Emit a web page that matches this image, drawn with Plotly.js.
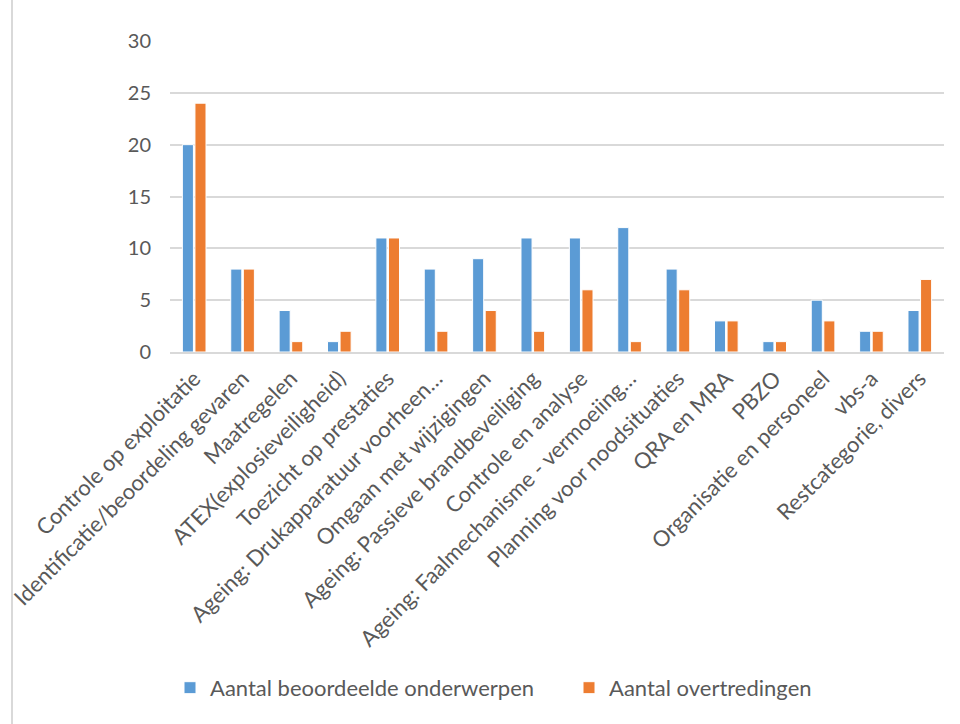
<!DOCTYPE html>
<html>
<head>
<meta charset="utf-8">
<script src="https://cdn.plot.ly/plotly-3.0.1.min.js"></script>
<style>html,body{margin:0;padding:0;background:#fff;}#chart{width:960px;height:724px;}</style>
</head>
<body>
<div id="chart"></div>
<script>
const categories = [
  "Controle op exploitatie",
  "Identificatie/beoordeling gevaren",
  "Maatregelen",
  "ATEX(explosieveiligheid)",
  "Toezicht op prestaties",
  "Ageing: Drukapparatuur voorheen…",
  "Omgaan met wijzigingen",
  "Ageing: Passieve brandbeveiliging",
  "Controle en analyse",
  "Ageing: Faalmechanisme - vermoeiing…",
  "Planning voor noodsituaties",
  "QRA en MRA",
  "PBZO",
  "Organisatie en personeel",
  "vbs-a",
  "Restcategorie, divers"
];
const beoordeeld = [20, 8, 4, 1, 11, 8, 9, 11, 11, 12, 8, 3, 1, 5, 2, 4];
const overtredingen = [24, 8, 1, 2, 11, 2, 4, 2, 6, 1, 6, 3, 1, 3, 2, 7];
const yTicks = [0, 5, 10, 15, 20, 25, 30];

const fontFam = "Lato, 'Open Sans', sans-serif";
const traces = [
  {type: "bar", name: "Aantal beoordeelde onderwerpen", x: categories, y: beoordeeld,
   legend: "legend",
   marker: {color: "#5B9BD5", line: {color: "#ffffff", width: 1}}},
  {type: "bar", name: "Aantal overtredingen", x: categories, y: overtredingen,
   legend: "legend2",
   marker: {color: "#ED7D31", line: {color: "#ffffff", width: 1}}}
];
const legendBase = {orientation: "h", y: -1.08, yanchor: "middle", xanchor: "left",
                    font: {size: 22, color: "#595959"}, itemwidth: 30, bgcolor: "rgba(0,0,0,0)"};
const layout = {
  width: 960, height: 724,
  margin: {l: 170, r: 16, t: 41, b: 372},
  paper_bgcolor: "#ffffff", plot_bgcolor: "#ffffff",
  barmode: "group", bargap: 0.48, bargroupgap: 0.12,
  font: {family: fontFam, color: "#595959", size: 22},
  xaxis: {
    type: "category", tickangle: -45, automargin: false,
    showline: true, linecolor: "#D9D9D9", linewidth: 2,
    showgrid: false, ticks: "", ticklabelstandoff: 3,
    tickfont: {size: 22, color: "#595959"}
  },
  yaxis: {
    range: [0, 30], tickvals: yTicks, ticktext: yTicks.map(String),
    showgrid: true, gridcolor: "#D9D9D9", gridwidth: 2,
    zeroline: false, showline: false, ticks: "", ticklen: 0,
    ticklabelstandoff: 18,
    tickfont: {size: 20, color: "#595959"}, automargin: false
  },
  showlegend: true,
  legend: Object.assign({}, legendBase, {x: (170 - 170) / 774}),
  legend2: Object.assign({}, legendBase, {x: (569 - 170) / 774}),
  shapes: [{type: "line", xref: "paper", yref: "paper",
            x0: (12 - 170) / 774, x1: (12 - 170) / 774, y0: (724 - 41) / 311 + 0.01, y1: -(724 - 352) / 311,
            line: {color: "#D9D9D9", width: 2}}]
};
Plotly.newPlot("chart", traces, layout, {displayModeBar: false, staticPlot: true});
</script>
</body>
</html>
